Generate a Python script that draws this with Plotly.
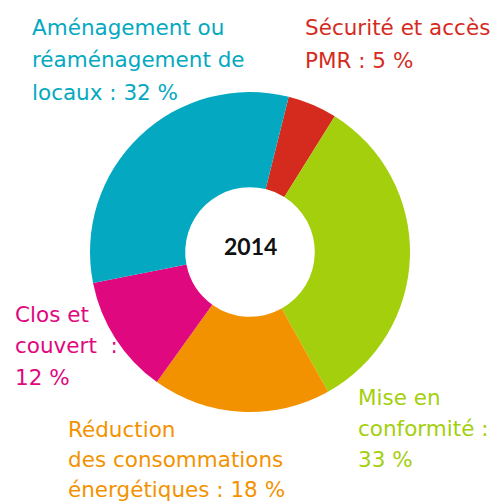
import plotly.graph_objects as go

# Shares of the 2014 works budget, in drawing order (clockwise from the top)
categories = ["Sécurité et accès PMR", "Mise en conformité",
              "Réduction des consommations énergétiques", "Clos et couvert",
              "Aménagement ou réaménagement de locaux"]
values = [5, 33, 18, 12, 32]
colors = ["#D52B1E", "#A3CF0C", "#F39200", "#E0087E", "#04A9C1"]

# Label text split into lines; the percentage is appended to the last line
label_lines = [
    ["Sécurité et accès", "PMR :"],
    ["Mise en", "conformité :", ""],
    ["Réduction", "des consommations", "énergétiques :"],
    ["Clos et", "couvert  :", ""],
    ["Aménagement ou", "réaménagement de", "locaux :"],
]
center_label = "2014"

W, H = 491, 502
cx, cy, r = 250, 252, 160

fig = go.Figure(go.Pie(
    labels=categories, values=values, sort=False, direction="clockwise",
    rotation=14, hole=0.405,
    marker=dict(colors=colors, line=dict(width=0)),
    textinfo="none", hoverinfo="label+percent", showlegend=False,
    domain=dict(x=[(cx - r) / W, (cx + r) / W],
                y=[(H - cy - r) / H, (H - cy + r) / H]),
))

# label block anchors: (left x, first baseline y, line spacing) in pixels
anchors = [(303, 35, 33), (356, 405, 31), (66, 437, 30), (13, 322, 31.5), (30, 35, 32.5)]
FS = 21.5
annotations = []
for lines, v, col, (x0, y0, dy) in zip(label_lines, values, colors, anchors):
    lines = list(lines)
    last = lines[-1]
    lines[-1] = (last + " " if last else "") + f"{v} %"
    for i, t in enumerate(lines):
        yb = y0 + i * dy
        annotations.append(dict(
            text=t, x=x0 / W, y=1 - (yb - 0.36 * FS) / H,
            xref="paper", yref="paper", xanchor="left", yanchor="middle",
            showarrow=False,
            font=dict(family="DejaVu Sans", size=FS, color=col, weight=400),
        ))

annotations.append(dict(
    text=f"<b>{center_label}</b>", x=cx / W, y=1 - 246 / H,
    xref="paper", yref="paper", xanchor="center", yanchor="middle",
    showarrow=False, font=dict(family="Lato", size=23, color="#111111"),
))

fig.update_layout(
    width=W, height=H, margin=dict(l=0, r=0, t=0, b=0),
    paper_bgcolor="white", plot_bgcolor="white",
    annotations=annotations,
)
fig.write_html("out.html")
